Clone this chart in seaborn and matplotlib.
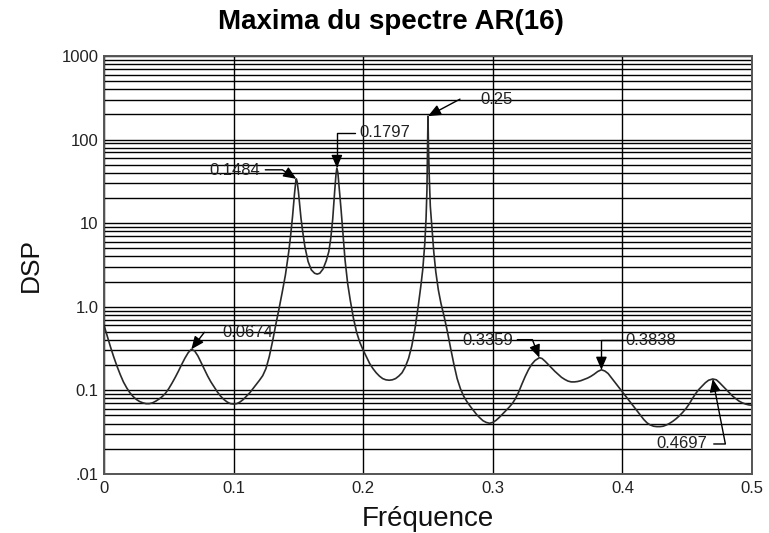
import numpy as np
import pandas as pd
import seaborn as sns
import matplotlib
matplotlib.use("Agg")
import matplotlib.pyplot as plt
from matplotlib.ticker import FixedLocator, FixedFormatter, LogLocator, NullFormatter

# AR(16) power spectral density: normalised frequency and log10(DSP)
freq = [
    0.0000, 0.0025, 0.0050, 0.0075, 0.0100, 0.0125, 0.0150, 0.0175, 0.0200, 0.0225,
    0.0250, 0.0275, 0.0300, 0.0325, 0.0350, 0.0375, 0.0400, 0.0425, 0.0450, 0.0475,
    0.0500, 0.0525, 0.0550, 0.0575, 0.0600, 0.0625, 0.0650, 0.0674, 0.0700, 0.0725,
    0.0750, 0.0775, 0.0800, 0.0825, 0.0850, 0.0875, 0.0900, 0.0925, 0.0950, 0.0975,
    0.1000, 0.1025, 0.1050, 0.1075, 0.1100, 0.1125, 0.1150, 0.1175, 0.1200, 0.1225,
    0.1250, 0.1275, 0.1300, 0.1325, 0.1350, 0.1375, 0.1400, 0.1425, 0.1440, 0.1455,
    0.1470, 0.1480, 0.1484, 0.1490, 0.1500, 0.1510, 0.1520, 0.1535, 0.1550, 0.1575,
    0.1600, 0.1625, 0.1645, 0.1665, 0.1690, 0.1715, 0.1735, 0.1750, 0.1765, 0.1780,
    0.1790, 0.1797, 0.1805, 0.1815, 0.1830, 0.1845, 0.1860, 0.1880, 0.1900, 0.1925,
    0.1950, 0.1975, 0.2000, 0.2025, 0.2050, 0.2075, 0.2100, 0.2125, 0.2150, 0.2175,
    0.2200, 0.2225, 0.2250, 0.2275, 0.2300, 0.2325, 0.2350, 0.2375, 0.2400, 0.2425,
    0.2445, 0.2460, 0.2475, 0.2485, 0.2492, 0.2496, 0.2500, 0.2504, 0.2510, 0.2518,
    0.2530, 0.2545, 0.2560, 0.2580, 0.2600, 0.2625, 0.2650, 0.2675, 0.2700, 0.2725,
    0.2750, 0.2775, 0.2800, 0.2825, 0.2850, 0.2875, 0.2900, 0.2925, 0.2950, 0.2975,
    0.3000, 0.3025, 0.3050, 0.3075, 0.3100, 0.3125, 0.3150, 0.3175, 0.3200, 0.3225,
    0.3250, 0.3275, 0.3300, 0.3325, 0.3359, 0.3380, 0.3405, 0.3430, 0.3455, 0.3480,
    0.3505, 0.3530, 0.3555, 0.3580, 0.3605, 0.3630, 0.3655, 0.3680, 0.3705, 0.3730,
    0.3755, 0.3780, 0.3810, 0.3838, 0.3865, 0.3890, 0.3915, 0.3940, 0.3965, 0.3990,
    0.4015, 0.4040, 0.4065, 0.4090, 0.4115, 0.4140, 0.4165, 0.4190, 0.4215, 0.4240,
    0.4265, 0.4290, 0.4315, 0.4340, 0.4365, 0.4390, 0.4415, 0.4440, 0.4465, 0.4490,
    0.4515, 0.4540, 0.4565, 0.4590, 0.4615, 0.4640, 0.4665, 0.4697, 0.4725, 0.4750,
    0.4775, 0.4800, 0.4825, 0.4850, 0.4875, 0.4900, 0.4925, 0.4950, 0.4975, 0.5000,
]
log_dsp = [
    -0.22, -0.35, -0.48, -0.60, -0.71, -0.81, -0.90, -0.97, -1.03, -1.075,
    -1.11, -1.135, -1.15, -1.16, -1.16, -1.15, -1.13, -1.105, -1.075, -1.035,
    -0.98, -0.915, -0.845, -0.77, -0.69, -0.615, -0.55, -0.51, -0.53, -0.59,
    -0.67, -0.75, -0.83, -0.90, -0.96, -1.02, -1.07, -1.11, -1.14, -1.16,
    -1.165, -1.16, -1.14, -1.11, -1.07, -1.03, -0.98, -0.93, -0.88, -0.825,
    -0.74, -0.60, -0.42, -0.22, -0.03, 0.17, 0.38, 0.65, 0.85, 1.08,
    1.35, 1.50, 1.53, 1.50, 1.38, 1.22, 1.06, 0.88, 0.72, 0.54,
    0.44, 0.40, 0.39, 0.40, 0.45, 0.55, 0.66, 0.82, 1.05, 1.38,
    1.58, 1.66, 1.60, 1.42, 1.15, 0.85, 0.56, 0.28, 0.08, -0.14,
    -0.31, -0.43, -0.52, -0.60, -0.68, -0.74, -0.79, -0.83, -0.86, -0.875,
    -0.88, -0.875, -0.86, -0.83, -0.79, -0.72, -0.62, -0.47, -0.26, 0.01,
    0.25, 0.45, 0.75, 1.05, 1.40, 1.80, 2.28, 1.90, 1.55, 1.20,
    0.95, 0.65, 0.42, 0.20, 0.04, -0.12, -0.30, -0.50, -0.69, -0.86,
    -0.98, -1.07, -1.135, -1.19, -1.24, -1.29, -1.33, -1.365, -1.385, -1.395,
    -1.385, -1.36, -1.325, -1.285, -1.245, -1.205, -1.16, -1.10, -1.02, -0.925,
    -0.835, -0.755, -0.69, -0.645, -0.61, -0.62, -0.655, -0.695, -0.735, -0.775,
    -0.81, -0.845, -0.87, -0.89, -0.90, -0.90, -0.895, -0.885, -0.87, -0.855,
    -0.835, -0.81, -0.775, -0.755, -0.77, -0.80, -0.85, -0.90, -0.95, -1.00,
    -1.05, -1.10, -1.15, -1.20, -1.25, -1.30, -1.35, -1.39, -1.415, -1.43,
    -1.435, -1.435, -1.43, -1.415, -1.395, -1.37, -1.34, -1.305, -1.265, -1.22,
    -1.165, -1.10, -1.04, -0.99, -0.95, -0.91, -0.88, -0.865, -0.875, -0.91,
    -0.95, -0.99, -1.03, -1.07, -1.10, -1.13, -1.15, -1.165, -1.175, -1.18,
]
dsp = [10.0 ** v for v in log_dsp]

# Detected spectral maxima (frequencies printed next to each arrow)
peak_freq = [0.0674, 0.1484, 0.1797, 0.25, 0.3359, 0.3838, 0.4697]
peak_text = ["0.0674", "0.1484", "0.1797", "0.25", "0.3359", "0.3838", "0.4697"]
peak_dsp = [dsp[freq.index(f)] for f in peak_freq]

# Axis ticks
x_ticks = [0.0, 0.1, 0.2, 0.3, 0.4, 0.5]
x_tick_labels = ["0", "0.1", "0.2", "0.3", "0.4", "0.5"]
y_ticks = [0.01, 0.1, 1.0, 10.0, 100.0, 1000.0]
y_tick_labels = [".01", "0.1", "1.0", "10", "100", "1000"]

sns.set_theme(style="white")
plt.rcParams["font.family"] = ["Liberation Sans", "DejaVu Sans"]

fig = plt.figure(figsize=(7.69, 5.33), dpi=100)
ax = fig.add_axes([0.1352, 0.111, 0.8427, 0.784])

df = pd.DataFrame({"Fréquence": freq, "DSP": dsp})
sns.lineplot(data=df, x="Fréquence", y="DSP", ax=ax, color="#2a2a2a",
             linewidth=1.2, zorder=3)

ax.set_yscale("log")
ax.set_xlim(0, 0.5)
ax.set_ylim(0.01, 1000)

ax.xaxis.set_major_locator(FixedLocator(x_ticks))
ax.xaxis.set_major_formatter(FixedFormatter(x_tick_labels))
ax.yaxis.set_major_locator(FixedLocator(y_ticks))
ax.yaxis.set_major_formatter(FixedFormatter(y_tick_labels))
ax.yaxis.set_minor_locator(LogLocator(base=10, subs=np.arange(2, 10)))
ax.yaxis.set_minor_formatter(NullFormatter())

ax.grid(True, which="major", axis="x", color="black", linewidth=1.0)
ax.grid(True, which="both", axis="y", color="black", linewidth=1.0)
ax.tick_params(axis="both", which="both", length=0, labelsize=12,
               colors="#222222")
ax.tick_params(axis="x", pad=5)
ax.tick_params(axis="y", pad=4)
for side in ax.spines.values():
    side.set_color("#555555")
    side.set_linewidth(1.4)

fig.text(0.508, 0.958, "Maxima du spectre AR(16)", fontsize=20,
         fontweight="bold", color="black", ha="center", va="center")
ax.set_xlabel("Fréquence", fontsize=20, labelpad=7, color="#111111")
ax.set_ylabel("DSP", fontsize=19, labelpad=13, color="#111111")

PX = 0.72  # points per pixel at 100 dpi
# (text offset, text alignment, arrow tail offset, connection style)
callouts = [
    ((31, 17), "left", (13, 17), "arc3"),
    ((-36, 8), "right", (-31, 9), "angle,angleA=0,angleB=-33,rad=0"),
    ((23, 35), "left", (18, 35), "angle,angleA=0,angleB=90,rad=0"),
    ((52, 17), "left", (32, 17), "arc3"),
    ((-26, 17), "right", (-22, 18), "angle,angleA=0,angleB=-69,rad=0"),
    ((24, 29), "left", (22, 30), "angle,angleA=0,angleB=90,rad=0"),
    ((-5, -65), "right", (1, -65), "angle,angleA=0,angleB=-79,rad=0"),
]
for f, v, txt, (toff, ha, aoff, cstyle) in zip(peak_freq, peak_dsp,
                                                peak_text, callouts):
    ax.annotate(txt, xy=(f, v), xytext=(toff[0] * PX, toff[1] * PX),
                textcoords="offset points", ha=ha, va="center",
                fontsize=12, color="#222222", zorder=5)
    ax.annotate("", xy=(f, v), xytext=(aoff[0] * PX, aoff[1] * PX),
                textcoords="offset points", zorder=6,
                arrowprops=dict(arrowstyle="-|>,head_length=0.7,head_width=0.3",
                                mutation_scale=11, color="black", lw=1.0,
                                shrinkA=0, shrinkB=0, connectionstyle=cstyle))

fig.savefig("out.png", dpi=100)
